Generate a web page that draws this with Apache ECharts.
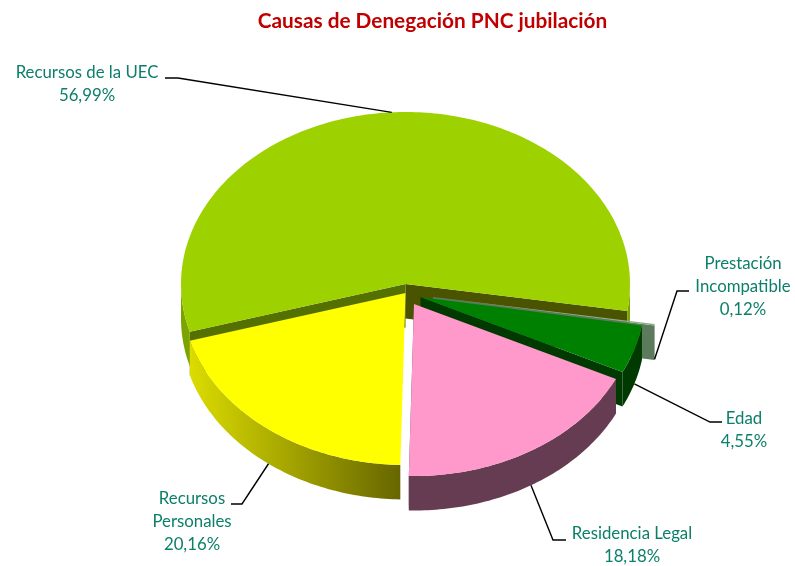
<!DOCTYPE html>
<html>
<head>
<meta charset="utf-8">
<title>Causas de Denegación PNC jubilación</title>
<script src="https://cdn.jsdelivr.net/npm/echarts@6/dist/echarts.min.js"></script>
<style>
  html, body { margin: 0; padding: 0; background: #fff; }
  #chart { width: 795px; height: 566px; }
</style>
</head>
<body>
<div id="chart"></div>
<script>
// clockwise order, starting at the left end of the big slice
const categories = ['Recursos de la UEC', 'Prestación\nIncompatible', 'Edad', 'Residencia Legal', 'Recursos\nPersonales']
const values = [56.99, 0.12, 4.55, 18.18, 20.16]

const faceColors = ['#9dd100', '#8fae8f', '#008000', '#ff99cc', '#ffff00']
const rimColors = ['#7ca400', '#5c7a5c', '#003a00', '#663c52', null]
const sideColors = ['#4a5300', '#5c7a5c', '#003a00', '#663c52', '#666600']

// apex of each slice's top face (the explosion of the pie)
const apexes = [[405.5, 284], [433, 297], [420.5, 297], [414, 304], [405.5, 293]]
const labelCenters = [[87, 84], [743, 287], [744, 430], [632, 545], [192, 522]]
const elbows = [[[165, 78], [178, 78]], [[689, 291], [677, 291]], [[722, 422], [710, 422]], [[566, 540], [553, 540]], [[231, 504], [242, 504]]]
// paint order: back to front
const layers = [1, 2, 3, 4, 5]

const startAngle = 253.9
const radiusX = 224.5
const radiusY = 172
const depth = 34.5

const total = values.reduce((a, b) => a + b, 0)
const sweeps = values.map(v => v / total * 360)

function rimPoint (apex, deg, drop) {
  const r = deg * Math.PI / 180
  return [apex[0] + radiusX * Math.sin(r), apex[1] - radiusY * Math.cos(r) + (drop || 0)]
}

function arc (apex, from, to, drop) {
  const pts = []
  const n = Math.max(2, Math.ceil(Math.abs(to - from)))
  for (let i = 0; i <= n; i++) {
    pts.push(rimPoint(apex, from + (to - from) * i / n, drop))
  }
  return pts
}

// the rim wall shows only on the front half of the ellipse
function frontParts (from, to) {
  const parts = []
  ;[90, 450].forEach(lo => {
    const a = Math.max(from, lo)
    const b = Math.min(to, lo + 180)
    if (b > a) parts.push([a, b])
  })
  return parts
}

const yellowRim = new echarts.graphic.LinearGradient(0, 0, 1, 0, [
  { offset: 0, color: '#dcdc00' },
  { offset: 1, color: '#666600' }
])

function renderSlice (params, api) {
  const i = params.dataIndex
  let from = startAngle
  for (let k = 0; k < i; k++) from += sweeps[k]
  const to = from + api.value(0) / total * 360
  const mid = (from + to) / 2
  const apex = apexes[i]
  const z = layers[i] * 10
  const children = []

  // radial side wall on the trailing edge
  const edge = rimPoint(apex, to)
  children.push({
    type: 'polygon',
    z2: z,
    shape: { points: [apex, edge, [edge[0], edge[1] + depth], [apex[0], apex[1] + depth]] },
    style: { fill: sideColors[i] },
    silent: true
  })
  // the big slice also shows its leading edge above the next one
  if (i === 0) {
    const lead = rimPoint(apex, from)
    children.push({
      type: 'polygon',
      z2: z,
      shape: { points: [apex, lead, [lead[0], lead[1] + depth], [apex[0], apex[1] + depth]] },
      style: { fill: '#537000' },
      silent: true
    })
  }

  frontParts(from, to).forEach(p => {
    children.push({
      type: 'polygon',
      z2: z + 1,
      shape: { points: arc(apex, p[0], p[1]).concat(arc(apex, p[1], p[0], depth)) },
      style: { fill: rimColors[i] || yellowRim },
      silent: true
    })
  })

  children.push({
    type: 'polygon',
    z2: z + 2,
    shape: { points: [apex].concat(arc(apex, from, to)) },
    style: { fill: faceColors[i] },
    silent: true
  })

  // leader line ends on the rim at the middle of the slice
  const front = Math.cos(mid * Math.PI / 180) < 0
  const anchor = rimPoint(apex, mid, front ? depth : 0)
  children.push({
    type: 'polyline',
    z2: 100,
    shape: { points: elbows[i].concat([anchor]) },
    style: { stroke: '#000', lineWidth: 1.4, fill: null },
    silent: true
  })

  children.push({
    type: 'text',
    z2: 100,
    style: {
      x: labelCenters[i][0],
      y: labelCenters[i][1],
      text: categories[i] + '\n' + api.value(0).toFixed(2).replace('.', ',') + '%',
      textAlign: 'center',
      textVerticalAlign: 'middle',
      fontFamily: 'Lato',
      fontSize: 16.8,
      lineHeight: 23,
      fill: '#0b7f69'
    },
    silent: true
  })

  return { type: 'group', children }
}

const chart = echarts.init(document.getElementById('chart'), null, { renderer: 'canvas' })
chart.setOption({
  animation: false,
  backgroundColor: '#fff',
  title: {
    text: 'Causas de Denegación PNC jubilación',
    left: 427.5,
    top: 6,
    textAlign: 'center',
    textStyle: { color: '#c00000', fontFamily: 'Lato', fontWeight: 'bold', fontSize: 20.8 }
  },
  series: [
    {
      type: 'custom',
      coordinateSystem: 'none',
      renderItem: renderSlice,
      data: values.map(v => [v])
    }
  ]
})
</script>
</body>
</html>
